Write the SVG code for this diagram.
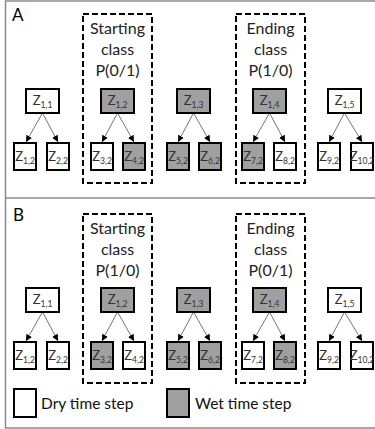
<svg xmlns="http://www.w3.org/2000/svg" width="375" height="429" viewBox="0 0 375 429">
<style>
.frame{fill:none;stroke:#8a8a8a;stroke-width:1.5}
.dry{fill:#ffffff;stroke:#000;stroke-width:2}
.wet{fill:#a0a0a0;stroke:#000;stroke-width:2}
.dash{fill:none;stroke:#000;stroke-width:2;stroke-dasharray:6,3}
.lab{font-family:Lato,"Liberation Sans",sans-serif;font-size:13px;fill:#333;text-anchor:middle}
.sub{font-size:8.5px}
.hd{font-family:Lato,"Liberation Sans",sans-serif;font-size:16px;fill:#222;text-anchor:middle}
.pl{font-family:Lato,"Liberation Sans",sans-serif;font-size:17px;fill:#000}
.leg{font-family:Lato,"Liberation Sans",sans-serif;font-size:15.5px;fill:#111}
.con{stroke:#666;stroke-width:0.9;fill:none;marker-end:url(#ah)}
</style>
<defs>
<marker id="ah" viewBox="0 0 6 6" refX="6" refY="3" markerWidth="6.5" markerHeight="6.5" markerUnits="userSpaceOnUse" orient="auto">
<path d="M0,0 L6,3 L0,6 z" fill="#000"/>
</marker>
</defs>
<rect width="375" height="429" fill="#fff"/>
<g id="frame">
<path class="frame" d="M376,1 H5.5 V428 H376"/>
<line class="frame" x1="5.5" y1="198" x2="376" y2="198"/>
</g>
<text class="pl" x="12" y="21">A</text>
<text class="pl" x="13" y="221">B</text>

<g id="classA-start">
<rect class="dash" x="83" y="14" width="69" height="169"/>
<text class="hd" x="117.5" y="34">Starting</text>
<text class="hd" x="117.5" y="55">class</text>
<text class="hd" x="117.5" y="76">P(0/1)</text>
</g>
<g id="classA-end">
<rect class="dash" x="236" y="14" width="69" height="169"/>
<text class="hd" x="270.5" y="34">Ending</text>
<text class="hd" x="270.5" y="55">class</text>
<text class="hd" x="270.5" y="76">P(1/0)</text>
</g>
<g id="classB-start">
<rect class="dash" x="83" y="214" width="69" height="169"/>
<text class="hd" x="117.5" y="234">Starting</text>
<text class="hd" x="117.5" y="255">class</text>
<text class="hd" x="117.5" y="276">P(1/0)</text>
</g>
<g id="classB-end">
<rect class="dash" x="236" y="214" width="69" height="169"/>
<text class="hd" x="270.5" y="234">Ending</text>
<text class="hd" x="270.5" y="255">class</text>
<text class="hd" x="270.5" y="276">P(0/1)</text>
</g>

<g id="connectors">
<path class="con" d="M42.5,113 L26,142"/><path class="con" d="M42.5,113 L58,142"/>
<path class="con" d="M117.5,113 L102,142"/><path class="con" d="M117.5,113 L134,142"/>
<path class="con" d="M193.5,113 L178,142"/><path class="con" d="M193.5,113 L210,142"/>
<path class="con" d="M269.5,113 L253,142"/><path class="con" d="M269.5,113 L285,142"/>
<path class="con" d="M344.5,113 L329,142"/><path class="con" d="M344.5,113 L362,142"/>
<path class="con" d="M42.5,312 L26,341"/><path class="con" d="M42.5,312 L58,341"/>
<path class="con" d="M117.5,312 L102,341"/><path class="con" d="M117.5,312 L134,341"/>
<path class="con" d="M193.5,312 L178,341"/><path class="con" d="M193.5,312 L210,341"/>
<path class="con" d="M269.5,312 L253,341"/><path class="con" d="M269.5,312 L285,341"/>
<path class="con" d="M344.5,312 L329,341"/><path class="con" d="M344.5,312 L362,341"/>
</g>

<!-- Panel A -->
<g id="A-z11"><rect class="dry" x="26" y="89" width="33" height="24"/><text class="lab" x="42.5" y="105">Z<tspan class="sub" dy="3">1,1</tspan></text></g>
<g id="A-z12top"><rect class="wet" x="101" y="89" width="33" height="24"/><text class="lab" x="117.5" y="105">Z<tspan class="sub" dy="3">1,2</tspan></text></g>
<g id="A-z13"><rect class="wet" x="177" y="89" width="33" height="24"/><text class="lab" x="193.5" y="105">Z<tspan class="sub" dy="3">1,3</tspan></text></g>
<g id="A-z14"><rect class="wet" x="253" y="89" width="33" height="24"/><text class="lab" x="269.5" y="105">Z<tspan class="sub" dy="3">1,4</tspan></text></g>
<g id="A-z15"><rect class="dry" x="328" y="89" width="33" height="24"/><text class="lab" x="344.5" y="105">Z<tspan class="sub" dy="3">1,5</tspan></text></g>

<g id="A-z1_2"><rect class="dry" x="14" y="143" width="22" height="27"/><text class="lab" x="25" y="161">Z<tspan class="sub" dy="3">1,2</tspan></text></g>
<g id="A-z2_2"><rect class="dry" x="47" y="143" width="22" height="27"/><text class="lab" x="58" y="161">Z<tspan class="sub" dy="3">2,2</tspan></text></g>
<g id="A-z3_2"><rect class="dry" x="91" y="143" width="22" height="27"/><text class="lab" x="102" y="161">Z<tspan class="sub" dy="3">3,2</tspan></text></g>
<g id="A-z4_2"><rect class="wet" x="123" y="143" width="22" height="27"/><text class="lab" x="134" y="161">Z<tspan class="sub" dy="3">4,2</tspan></text></g>
<g id="A-z5_2"><rect class="wet" x="167" y="143" width="22" height="27"/><text class="lab" x="178" y="161">Z<tspan class="sub" dy="3">5,2</tspan></text></g>
<g id="A-z6_2"><rect class="wet" x="199" y="143" width="22" height="27"/><text class="lab" x="210" y="161">Z<tspan class="sub" dy="3">6,2</tspan></text></g>
<g id="A-z7_2"><rect class="wet" x="242" y="143" width="22" height="27"/><text class="lab" x="253" y="161">Z<tspan class="sub" dy="3">7,2</tspan></text></g>
<g id="A-z8_2"><rect class="dry" x="274" y="143" width="22" height="27"/><text class="lab" x="285" y="161">Z<tspan class="sub" dy="3">8,2</tspan></text></g>
<g id="A-z9_2"><rect class="dry" x="318" y="143" width="22" height="27"/><text class="lab" x="329" y="161">Z<tspan class="sub" dy="3">9,2</tspan></text></g>
<g id="A-z10_2"><rect class="dry" x="351" y="143" width="22" height="27"/><text class="lab" x="362" y="161">Z<tspan class="sub" dy="3">10,2</tspan></text></g>

<!-- Panel B -->
<g id="B-z11"><rect class="dry" x="26" y="288" width="33" height="24"/><text class="lab" x="42.5" y="304">Z<tspan class="sub" dy="3">1,1</tspan></text></g>
<g id="B-z12top"><rect class="wet" x="101" y="288" width="33" height="24"/><text class="lab" x="117.5" y="304">Z<tspan class="sub" dy="3">1,2</tspan></text></g>
<g id="B-z13"><rect class="wet" x="177" y="288" width="33" height="24"/><text class="lab" x="193.5" y="304">Z<tspan class="sub" dy="3">1,3</tspan></text></g>
<g id="B-z14"><rect class="wet" x="253" y="288" width="33" height="24"/><text class="lab" x="269.5" y="304">Z<tspan class="sub" dy="3">1,4</tspan></text></g>
<g id="B-z15"><rect class="dry" x="328" y="288" width="33" height="24"/><text class="lab" x="344.5" y="304">Z<tspan class="sub" dy="3">1,5</tspan></text></g>

<g id="B-z1_2"><rect class="dry" x="14" y="342" width="22" height="27"/><text class="lab" x="25" y="360">Z<tspan class="sub" dy="3">1,2</tspan></text></g>
<g id="B-z2_2"><rect class="dry" x="47" y="342" width="22" height="27"/><text class="lab" x="58" y="360">Z<tspan class="sub" dy="3">2,2</tspan></text></g>
<g id="B-z3_2"><rect class="wet" x="91" y="342" width="22" height="27"/><text class="lab" x="102" y="360">Z<tspan class="sub" dy="3">3,2</tspan></text></g>
<g id="B-z4_2"><rect class="dry" x="123" y="342" width="22" height="27"/><text class="lab" x="134" y="360">Z<tspan class="sub" dy="3">4,2</tspan></text></g>
<g id="B-z5_2"><rect class="wet" x="167" y="342" width="22" height="27"/><text class="lab" x="178" y="360">Z<tspan class="sub" dy="3">5,2</tspan></text></g>
<g id="B-z6_2"><rect class="wet" x="199" y="342" width="22" height="27"/><text class="lab" x="210" y="360">Z<tspan class="sub" dy="3">6,2</tspan></text></g>
<g id="B-z7_2"><rect class="dry" x="242" y="342" width="22" height="27"/><text class="lab" x="253" y="360">Z<tspan class="sub" dy="3">7,2</tspan></text></g>
<g id="B-z8_2"><rect class="wet" x="274" y="342" width="22" height="27"/><text class="lab" x="285" y="360">Z<tspan class="sub" dy="3">8,2</tspan></text></g>
<g id="B-z9_2"><rect class="dry" x="318" y="342" width="22" height="27"/><text class="lab" x="329" y="360">Z<tspan class="sub" dy="3">9,2</tspan></text></g>
<g id="B-z10_2"><rect class="dry" x="351" y="342" width="22" height="27"/><text class="lab" x="362" y="360">Z<tspan class="sub" dy="3">10,2</tspan></text></g>

<g id="legend-dry"><rect class="dry" x="14" y="389" width="22" height="28"/><text class="leg" x="41" y="409">Dry time step</text></g>
<g id="legend-wet"><rect class="wet" x="167" y="389" width="22" height="28"/><text class="leg" x="195" y="409">Wet time step</text></g>
</svg>
